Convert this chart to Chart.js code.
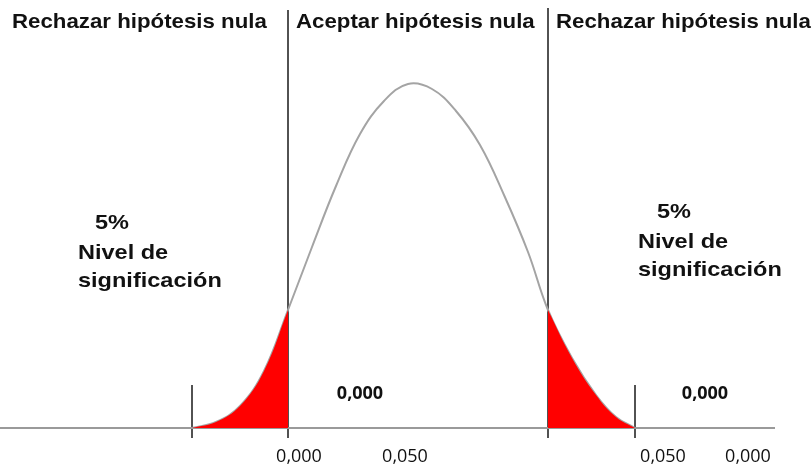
<!DOCTYPE html>
<html>
<head>
<meta charset="utf-8">
<script src="https://cdn.jsdelivr.net/npm/chart.js@4"></script>
<style>
  body { margin: 0; background: #fff; }
  #wrap { width: 812px; height: 469px; }
</style>
</head>
<body>
<div id="wrap"><canvas id="myChart"></canvas></div>
<script>
// curve (x position, height above baseline)
const curveX = [192, 216, 240, 264, 288, 312, 336, 360, 384, 408, 432, 456, 480, 504, 528, 548, 572, 596, 616, 635];
const curveY = [0, 6, 22, 57, 118, 181, 242, 294, 327, 344, 339, 317, 283, 233, 176, 118, 70, 33, 11, 0];

// critical values / region borders
const lowerCrit = 288;
const upperCrit = 548;
const tailStart = 192;
const tailEnd = 635;

// texts
const regionTitles = ['Rechazar hipótesis nula', 'Aceptar hipótesis nula', 'Rechazar hipótesis nula'];
const levelLines = ['5%', 'Nivel de', 'significación'];
const valueLabels = ['0,000', '0,000'];
const tickLabels = ['0,000', '0,050', '0,050', '0,000'];
const tickValues = [299, 405, 663, 748];

const points = curveX.map((x, i) => ({ x: x, y: curveY[i] }));
const leftTail = points.filter(p => p.x <= lowerCrit);
const rightTail = points.filter(p => p.x >= upperCrit);

const vline = (x, top) => [{ x: x, y: top }, { x: x, y: -10 }];

const textPlugin = {
  id: 'texts',
  afterDatasetsDraw(chart) {
    const ctx = chart.ctx;
    const xs = chart.scales.x, ys = chart.scales.y;
    const put = (txt, x, y, font, align, sx) => {
      ctx.save();
      ctx.font = font;
      ctx.fillStyle = '#111';
      ctx.textAlign = align || 'left';
      ctx.textBaseline = 'alphabetic';
      ctx.translate(xs.getPixelForValue(x), ys.getPixelForValue(y));
      ctx.scale(sx || 1, 1);
      ctx.fillText(txt, 0, 0);
      ctx.restore();
    };
    const bold = 'bold 21px "Liberation Sans", Arial, sans-serif';
    put(regionTitles[0], 12, 400, bold, 'left', 1.06);
    put(regionTitles[1], 296, 400, bold, 'left', 1.06);
    put(regionTitles[2], 556, 400, bold, 'left', 1.06);

    put(levelLines[0], 95, 199, bold, 'left', 1.12);
    put(levelLines[1], 78, 169, bold, 'left', 1.12);
    put(levelLines[2], 78, 141, bold, 'left', 1.12);
    put(levelLines[0], 657, 210, bold, 'left', 1.12);
    put(levelLines[1], 638, 180, bold, 'left', 1.12);
    put(levelLines[2], 638, 152, bold, 'left', 1.12);

    const num = 'bold 18px "Open Sans", Arial, sans-serif';
    put(valueLabels[0], 360, 29, num, 'center');
    put(valueLabels[1], 705, 29, num, 'center');

    const tick = '18px "Open Sans", Arial, sans-serif';
    tickLabels.forEach((t, i) => put(t, tickValues[i], -34, tick, 'center'));
  }
};

const data = {
  datasets: [
    {
      data: leftTail,
      borderWidth: 0,
      backgroundColor: '#ff0000',
      fill: 'origin',
      pointRadius: 0,
      tension: 0.4
    },
    {
      data: rightTail,
      borderWidth: 0,
      backgroundColor: '#ff0000',
      fill: 'origin',
      pointRadius: 0,
      tension: 0.4
    },
    {
      data: [{ x: 0, y: 0 }, { x: 775, y: 0 }],
      borderColor: '#9a9a9a',
      borderWidth: 2,
      pointRadius: 0
    },
    {
      data: points,
      borderColor: '#a4a4a4',
      borderWidth: 2,
      pointRadius: 0,
      fill: false,
      tension: 0.4
    },
    { data: vline(lowerCrit, 418), borderColor: '#1a1a1a', borderWidth: 1.5, pointRadius: 0 },
    { data: vline(upperCrit, 420), borderColor: '#1a1a1a', borderWidth: 1.5, pointRadius: 0 },
    { data: vline(tailStart, 43), borderColor: '#1a1a1a', borderWidth: 1.5, pointRadius: 0 },
    { data: vline(tailEnd, 43), borderColor: '#1a1a1a', borderWidth: 1.5, pointRadius: 0 }
  ]
};

const config = {
  type: 'line',
  data,
  options: {
    responsive: true,
    maintainAspectRatio: false,
    animation: false,
    layout: { padding: 0 },
    plugins: { legend: { display: false }, tooltip: { enabled: false } },
    scales: {
      x: { type: 'linear', min: 0, max: 812, display: false },
      y: { min: -41, max: 428, display: false }
    }
  },
  plugins: [textPlugin]
};

const myChart = new Chart(document.getElementById('myChart'), config);
</script>
</body>
</html>
